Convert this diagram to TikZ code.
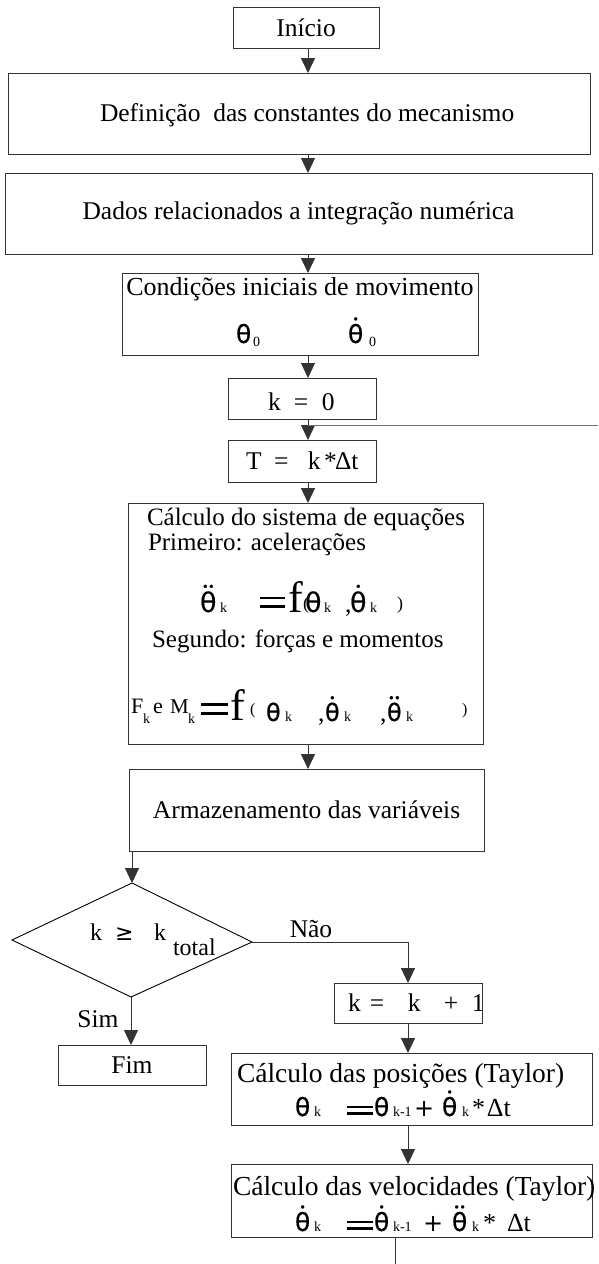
\documentclass[tikz,border=0pt]{standalone}
\usepackage{fontspec}
\setmainfont{Liberation Serif}
\newfontfamily\grk[FakeBold=0.6]{DejaVu Sans}
\newfontfamily\grkf{DejaVu Sans}
\usetikzlibrary{arrows.meta}
\newcommand\fsz[1]{\fontsize{#1}{#1}\selectfont}
\newcommand\thx[1]{{\fsz{#1}\grk θ}}
\newcommand\thxd[1]{{\fsz{#1}\grk\ooalign{θ\cr\hidewidth\raisebox{0.8em}{\fsz{11}•}\hidewidth\cr}}}
\newcommand\thxdd[1]{{\fsz{#1}\grk\ooalign{θ\cr\hidewidth\raisebox{0.8em}{\fsz{11}•\kern-0.5pt•}\hidewidth\cr}}}
\newcommand\sbk[1]{{\fsz{14}#1}}
\newcommand\eqbar[3]{\raisebox{#3}{\vbox{\hrule width #1 height 2.6pt\vskip #2\hrule width #1 height 2.6pt}}}
\newcommand\pc[2]{\rlap{\hspace*{#1}#2}}
\begin{document}
\begin{tikzpicture}[x=1pt,y=-1pt,
 box/.style={draw=black!80,line width=1pt,inner sep=0pt,outer sep=0pt,font=\fsz{25.5}},
 arr/.style={draw=black!80,line width=1pt,-{Triangle[width=14pt,length=15pt]}},
 lnk/.style={draw=black!80,line width=1pt},
 txt/.style={inner sep=0pt,outer sep=0pt,font=\fsz{25.5}}]
\useasboundingbox (0,0) rectangle (598,1264);
\coordinate (cA) at (308,0);
\coordinate (cB) at (408,0);

% boxes
\node[box,minimum width=146pt,minimum height=41pt] (ini) at (306,27.5) {Início};
\node[box,minimum width=582pt,minimum height=81pt] (def) at (299,113.5) {};
\node[txt,anchor=base west] (defT) at (100,121) {Definição\ \ das constantes do mecanismo};
\node[box,minimum width=587pt,minimum height=81pt] (dad) at (298.5,213.5) {Dados relacionados a integração numérica};
\node[box,minimum width=356pt,minimum height=82pt] (con) at (300,314) {};
\node[txt,anchor=base,font=\fsz{26}] (conT) at (300,295) {Condições iniciais de movimento};
\node[txt,anchor=base west] (th0) at (236,343) {\pc{0pt}{\thx{25}}\pc{17pt}{\raisebox{-3pt}{\sbk{0}}}\hspace*{25pt}};
\node[txt,anchor=base west] (thd0) at (348,343) {\pc{0pt}{\thxd{25}}\pc{21pt}{\raisebox{-3pt}{\sbk{0}}}\hspace*{29pt}};

\node[box,minimum width=148pt,minimum height=41pt] (k0) at (302,398.5) {};
\node[txt,anchor=base west] (k0T) at (268,410) {\pc{0pt}{k}\pc{26pt}{=}\pc{54pt}{0}\hspace*{66pt}};
\node[box,minimum width=148pt,minimum height=42pt] (T) at (302,461) {};
\node[txt,anchor=base west] (TT) at (246,469) {\pc{0pt}{T}\pc{28pt}{=}\pc{62pt}{k}\pc{78pt}{*}\pc{89pt}{Δt}\hspace*{121pt}};

\node[box,minimum width=355pt,minimum height=241pt] (calc) at (305.5,623.5) {};
\node[txt,anchor=base west,font=\fsz{25}] (c1) at (147,525) {Cálculo do sistema de equações};
\node[txt,anchor=base west,font=\fsz{25}] (c2) at (148,550) {Primeiro: acelerações};
\node[txt,anchor=base west] (c3) at (202,612) {\pc{-2pt}{\thxdd{27}}\pc{18pt}{\sbk{k}}\pc{58pt}{\eqbar{25pt}{6pt}{4pt}}\pc{86pt}{\fsz{44}f}\pc{101pt}{\raisebox{3pt}{\fsz{18}(}}\pc{103pt}{\thx{27}}\pc{122pt}{\sbk{k}}\pc{143pt}{,}\pc{148pt}{\thxd{27}}\pc{168pt}{\sbk{k}}\pc{195pt}{\raisebox{3pt}{\fsz{18})}}\hspace*{201pt}};
\node[txt,anchor=base west,font=\fsz{25}] (c4) at (152,647) {Segundo: forças e momentos};
\node[txt,anchor=base west] (c5) at (131,721) {\pc{0pt}{\raisebox{8pt}{\fsz{22}F}}\pc{12pt}{\raisebox{-2pt}{\sbk{k}}}\pc{22pt}{\raisebox{8pt}{\fsz{22}e}}\pc{39pt}{\raisebox{8pt}{\fsz{21}M}}\pc{57pt}{\raisebox{-2pt}{\sbk{k}}}\pc{70pt}{\eqbar{27pt}{6.5pt}{6pt}}\pc{99pt}{\raisebox{1pt}{\fsz{44}f}}\pc{119pt}{\raisebox{7pt}{\fsz{16}(}}\pc{135pt}{\thx{24}}\pc{154pt}{\sbk{k}}\pc{187pt}{,}\pc{194pt}{\thxd{24}}\pc{213pt}{\sbk{k}}\pc{249pt}{,}\pc{256pt}{\thxdd{24}}\pc{275pt}{\sbk{k}}\pc{331pt}{\raisebox{7pt}{\fsz{16})}}\hspace*{337pt}};

\node[box,minimum width=355pt,minimum height=82pt] (arm) at (306.5,810) {Armazenamento das variáveis};

% decision
\coordinate (dT) at (132,883);
\coordinate (dR) at (252,942);
\coordinate (dB) at (131,997);
\coordinate (dL) at (12,940);
\draw[black,line width=0.9pt] (dT) -- (dR) -- (dB) -- (dL) -- cycle;
\node[txt,anchor=base west,font=\fsz{24}] (dtx) at (90,940) {\pc{0pt}{k}\pc{25pt}{\grkf\fsz{22}≥}\pc{64pt}{k}\pc{83pt}{\raisebox{-15pt}{total}}\hspace*{125pt}};

\node[box,minimum width=148pt,minimum height=40pt] (fim) at (132,1065) {Fim};
\node[box,minimum width=148pt,minimum height=40pt] (kk) at (408,1003) {};
\node[txt,anchor=base west] (kkT) at (348,1011) {\pc{0pt}{k}\pc{22pt}{=}\pc{60pt}{k}\pc{96pt}{+}\pc{124pt}{1}\hspace*{130pt}};

\node[box,minimum width=361pt,minimum height=72pt] (pos) at (411.5,1089) {};
\node[txt,anchor=base west,font=\fsz{27.5}] (p1) at (237,1082) {Cálculo das posições (Taylor)};
\node[txt,anchor=base west] (p2) at (297,1116) {\pc{-2pt}{\thx{25}}\pc{17pt}{\sbk{k}}\pc{50pt}{\eqbar{26pt}{4pt}{1pt}}\pc{77pt}{\thx{25}}\pc{96pt}{\sbk{k-1}}\pc{117pt}{\grkf\fsz{24}+}\pc{145pt}{\thxd{25}}\pc{165pt}{\sbk{k}}\pc{175pt}{\fsz{26}*}\pc{190pt}{\fsz{26}Δt}\hspace*{216pt}};

\node[box,minimum width=361pt,minimum height=73pt] (vel) at (411.5,1200.5) {};
\node[txt,anchor=base west,font=\fsz{27.5}] (v1) at (233,1195) {Cálculo das velocidades (Taylor)};
\node[txt,anchor=base west] (v2) at (297,1231) {\pc{-2pt}{\thxd{25}}\pc{17pt}{\sbk{k}}\pc{50pt}{\eqbar{26pt}{4pt}{1pt}}\pc{77pt}{\thxd{25}}\pc{96pt}{\sbk{k-1}}\pc{126pt}{\grkf\fsz{24}+}\pc{155pt}{\thxdd{25}}\pc{175pt}{\sbk{k}}\pc{186pt}{\fsz{26}*}\pc{210pt}{\fsz{26}Δt}\hspace*{236pt}};

% labels
\node[txt,anchor=base] (nao) at (311,937) {Não};
\node[txt,anchor=base] (sim) at (98,1027) {Sim};

% connectors
\draw[arr] (ini.south -| cA) -- (def.north -| cA);
\draw[arr] (def.south -| cA) -- (dad.north -| cA);
\draw[arr] (dad.south -| cA) -- (con.north -| cA);
\draw[arr] (con.south -| cA) -- (k0.north -| cA);
\draw[arr] (k0.south -| cA) -- (T.north -| cA);
\draw[arr] (T.south -| cA) -- (calc.north -| cA);
\draw[arr] (calc.south -| cA) -- (arm.north -| cA);
\draw[arr] (arm.south -| dT) -- (dT);
\draw[arr] (dB) -- (fim.north -| dB);
\draw[arr] (dR) -| (kk.north -| cB);
\draw[arr] (kk.south -| cB) -- (pos.north -| cB);
\draw[arr] (pos.south -| cB) -- (vel.north -| cB);
\coordinate (vEnd) at (395,1264);
\draw[lnk] (vel.south -| vEnd) -- (vEnd);
\coordinate (jn) at (308,425);
\coordinate (lR) at (598,425);
\draw[draw=black!55,line width=1pt] (lR) -- (jn);
\end{tikzpicture}
\end{document}
